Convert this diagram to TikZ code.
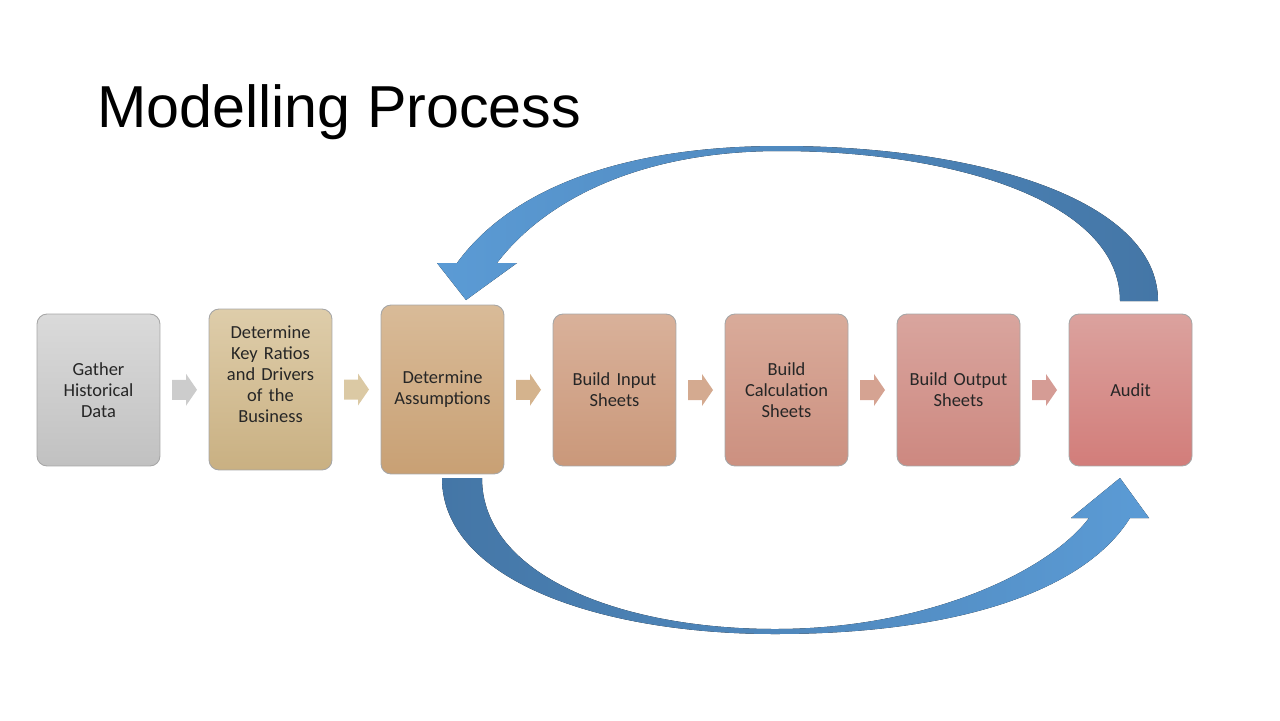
\documentclass[tikz,border=0pt]{standalone}
\usepackage{fontspec}
\setmainfont{Carlito}
\newfontfamily\titlefont{Liberation Sans}
\usepackage{tikz}
\usetikzlibrary{positioning,calc}
\definecolor{arrowlight}{RGB}{91,155,213}
\definecolor{arrowdark}{RGB}{68,118,166}
\definecolor{grayA}{RGB}{218,218,218}
\definecolor{grayB}{RGB}{193,193,193}
\definecolor{tanA}{RGB}{222,205,170}
\definecolor{tanB}{RGB}{201,176,130}
\definecolor{sandA}{RGB}{217,187,152}
\definecolor{sandB}{RGB}{200,160,116}
\definecolor{clayA}{RGB}{217,177,154}
\definecolor{clayB}{RGB}{202,152,122}
\definecolor{roseA}{RGB}{217,171,154}
\definecolor{roseB}{RGB}{204,144,128}
\definecolor{pinkA}{RGB}{217,165,158}
\definecolor{pinkB}{RGB}{205,136,128}
\definecolor{redA}{RGB}{219,162,158}
\definecolor{redB}{RGB}{210,125,122}
\tikzstyle{stage} = [rounded corners=0.2cm,draw=black!35,line width=0.5pt,minimum width=2.46cm,minimum height=3.04cm,text width=2.1cm,align=center,font=\fontsize{10.5}{11.9}\selectfont,text=black!85]
\tikzset{chev/.pic={\fill[pic actions] (-12.5,-10) -- (1.5,-10) -- (1.5,-16) -- (12.5,0) -- (1.5,16) -- (1.5,10) -- (-12.5,10) -- cycle;}}

\begin{document}
\begin{tikzpicture}[x=0.02cm,y=-0.02cm]
    \useasboundingbox (0,0) rectangle (1280,720);
    \node [anchor=base west,inner sep=0pt,font=\titlefont\fontsize{33.7}{40}\selectfont] (title) at (97,127) {Modelling Process};

    \node [stage,top color=grayA,bottom color=grayB] (gather) at (98.5,390) {Gather\\Historical\\Data};
    \node [stage,top color=tanA,bottom color=tanB,minimum height=3.22cm] (ratios) at (270.5,389.5) {};
    \node [text width=2.1cm,align=center,font=\fontsize{10.5}{11.9}\selectfont,text=black!85] (ratiostext) at (270.5,374.5) {Determine\\Key Ratios\\and Drivers\\of the\\Business};
    \node [stage,top color=sandA,bottom color=sandB,minimum height=3.38cm] (assume) at (442.5,389.5) {Determine\\Assumptions};
    \node [stage,top color=clayA,bottom color=clayB] (input) at (614.5,390) {Build Input\\Sheets};
    \node [stage,top color=roseA,bottom color=roseB] (calc) at (786.5,390) {Build\\Calculation\\Sheets};
    \node [stage,top color=pinkA,bottom color=pinkB] (output) at (958.5,390) {Build Output\\Sheets};
    \node [stage,top color=redA,bottom color=redB] (audit) at (1130.5,390) {Audit};

    \pic [fill=black!20] at ($(gather.east)!0.5!(ratios.west)$) {chev};
    \pic [fill=tanA!85!tanB] at ($(ratios.east)!0.5!(assume.west)$) {chev};
    \pic [fill=sandA!70!sandB] at ($(assume.east)!0.5!(input.west)$) {chev};
    \pic [fill=clayA!70!clayB] at ($(input.east)!0.5!(calc.west)$) {chev};
    \pic [fill=roseA!70!roseB] at ($(calc.east)!0.5!(output.west)$) {chev};
    \pic [fill=pinkA!70!pinkB] at ($(output.east)!0.5!(audit.west)$) {chev};

    % loop back from audit to assumptions
    \fill [left color=arrowlight,right color=arrowdark] (1158,301) .. controls (1158,200) and (980,146) .. (780,146) .. controls (620,146) and (510,190) .. (457,263) -- (437,263) -- (466,300) -- (517,263) -- (497,263) .. controls (545,200) and (640,151) .. (780,151) .. controls (950,151) and (1120,200) .. (1120,301) -- cycle;
    % forward from assumptions to audit
    \fill [left color=arrowdark,right color=arrowlight] (442,478) .. controls (442,580) and (600,634) .. (775,634) .. controls (960,634) and (1085,590) .. (1130,518) -- (1149,518) -- (1120,478) -- (1071,518) -- (1089,518) .. controls (1050,570) and (930,629) .. (775,629) .. controls (620,629) and (482,575) .. (482,478) -- cycle;
\end{tikzpicture}
\end{document}
